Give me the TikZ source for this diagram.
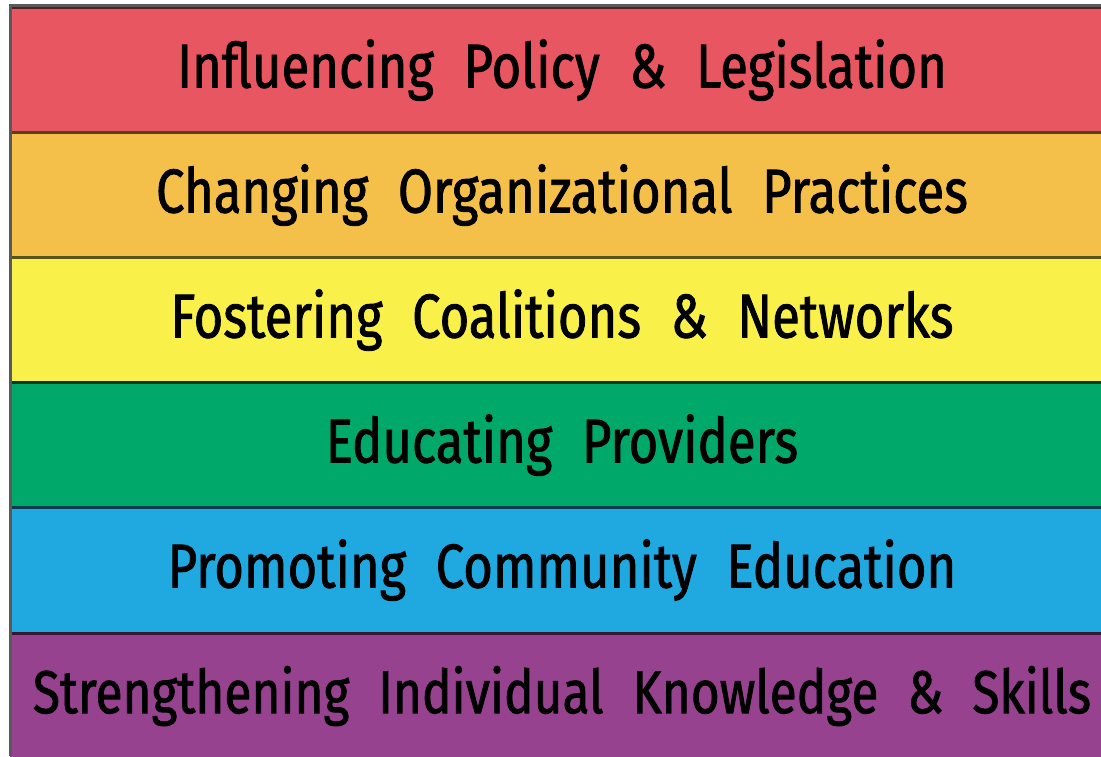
\documentclass[tikz,border=0pt]{standalone}
\usepackage{fontspec}
\newfontfamily\bandfont{Fira Sans}[FakeStretch=0.82,WordSpace=2.2,FakeBold=1.3]
\definecolor{policyred}{HTML}{E85661}
\definecolor{practiceorange}{HTML}{F5C04A}
\definecolor{coalitionyellow}{HTML}{F9F04A}
\definecolor{providergreen}{HTML}{00A96A}
\definecolor{communityblue}{HTML}{20A8E0}
\definecolor{skillpurple}{HTML}{96428F}

\begin{document}
\begin{tikzpicture}[x=1pt, y=-1pt,
    band text/.style = {font=\bandfont\fontsize{#1}{#1}\selectfont, text=black, inner sep=0pt},
    band rule/.style = {line width=3pt}]
\useasboundingbox (0,0) rectangle (1101,756);
\foreach \top/\col/\name/\fs/\txt in {
    7/policyred/policy/62/{Influencing Policy \& Legislation},
    132/practiceorange/practice/62/{Changing Organizational Practices},
    257/coalitionyellow/coalition/62/{Fostering Coalitions \& Networks},
    382/providergreen/provider/62/{Educating Providers},
    507/communityblue/community/62/{Promoting Community Education},
    633/skillpurple/skill/60.5/{Strengthening Individual Knowledge \& Skills}} {
  \fill[\col] (10,\top) rectangle (1101,\top+125);
  \draw[band rule, \col!35!black] (10,\top) -- (1101,\top);
  \node[band text=\fs] (\name) at (562,\top+63) {\txt};
}
% outer frame
\draw[band rule, black!65] (10,756) -- (10,5.5) -- (1101,5.5);
\end{tikzpicture}
\end{document}
